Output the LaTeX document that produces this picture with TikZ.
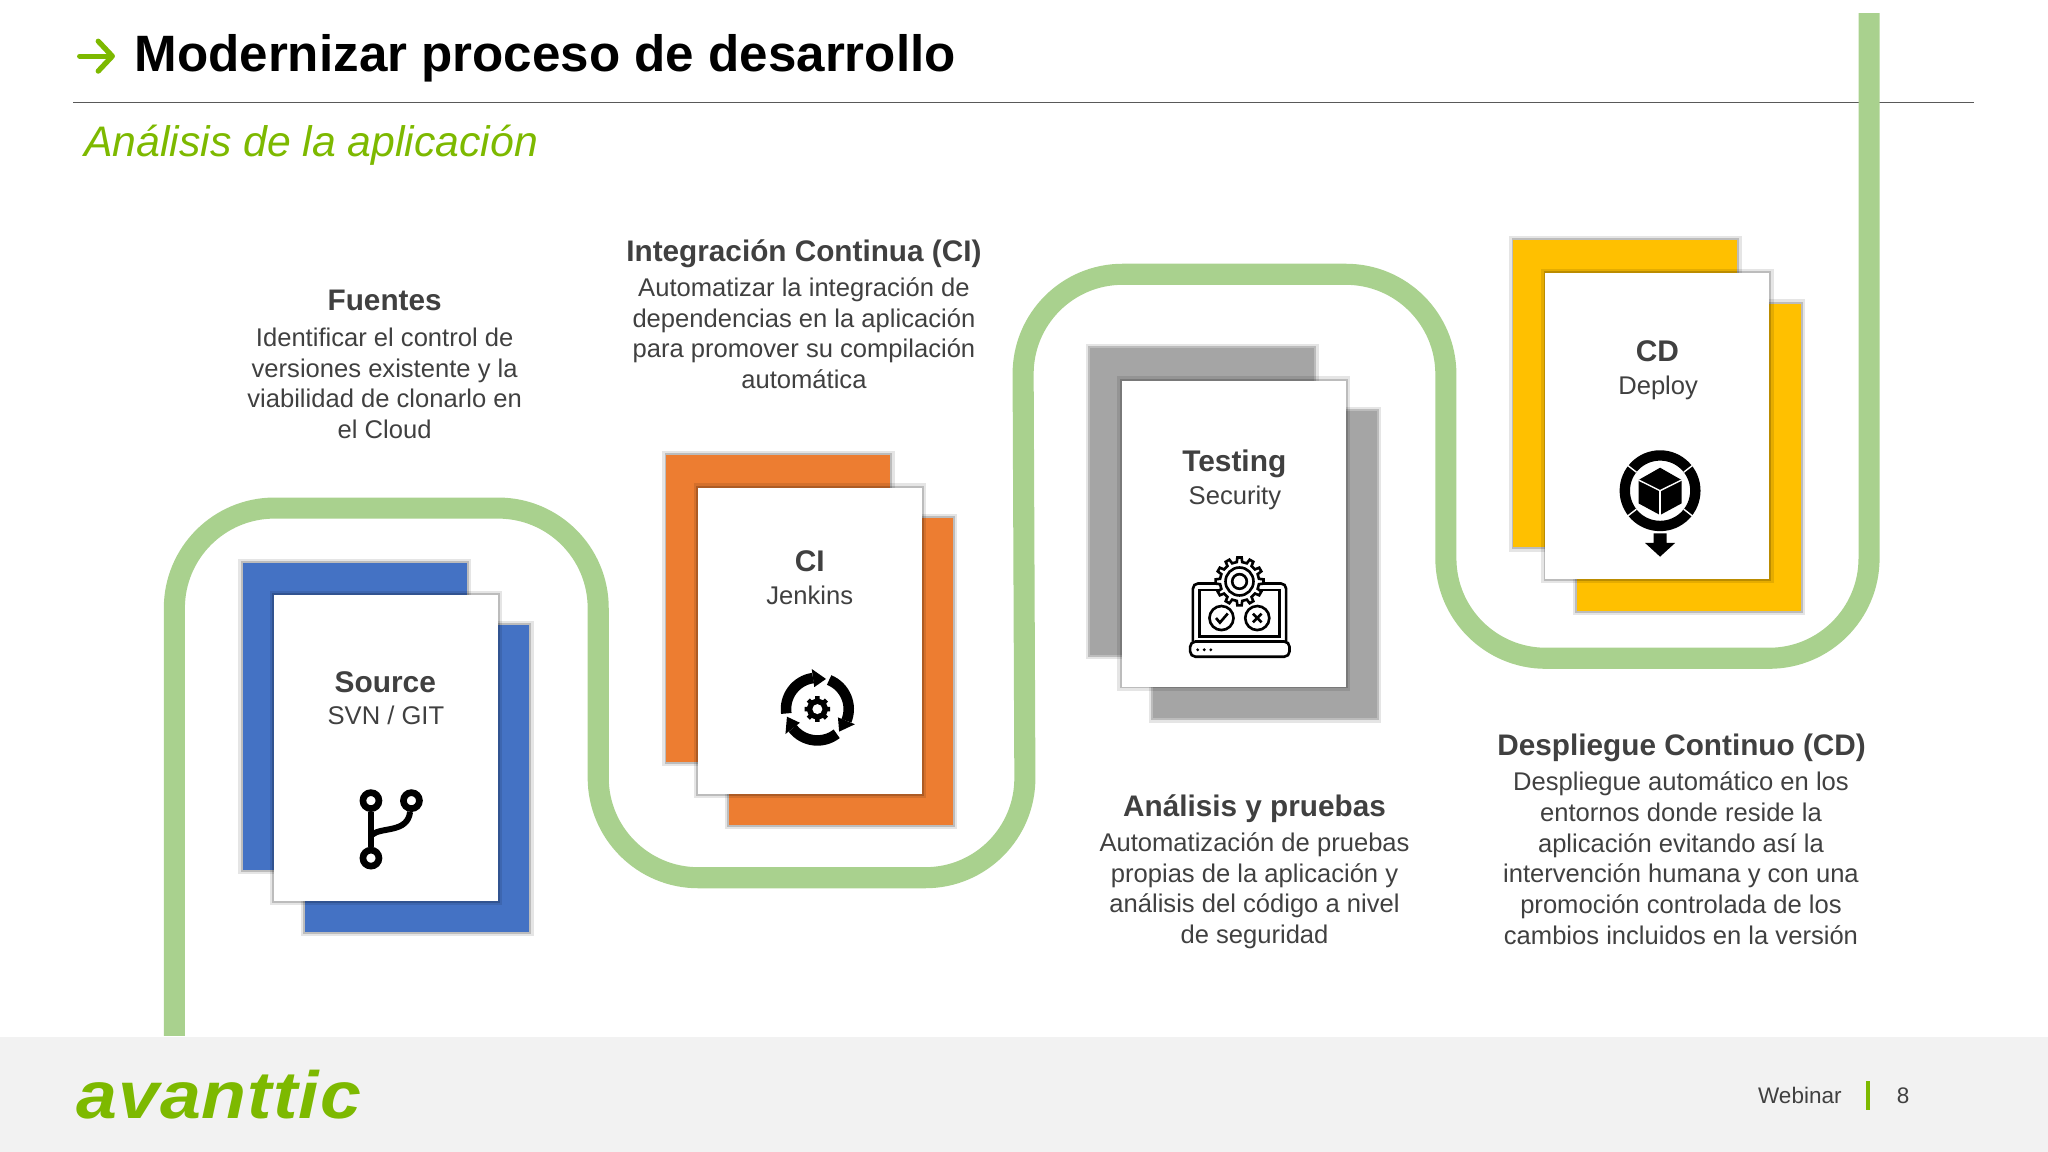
\documentclass[tikz,border=0pt]{standalone}
\usepackage{fontspec}
\setmainfont{Liberation Sans}
\newfontfamily\logofont[LetterSpace=1.5,FakeStretch=1.1]{Liberation Sans}
\usetikzlibrary{arrows.meta}
\pgfdeclarelayer{edgelayer}
\pgfdeclarelayer{nodelayer}
\pgfsetlayers{edgelayer,nodelayer,main}
\definecolor{pathgreen}{HTML}{A9D18E}
\definecolor{brandgreen}{HTML}{7DB900}
\definecolor{darktext}{HTML}{404040}
\definecolor{cardblue}{HTML}{4472C4}
\definecolor{cardorange}{HTML}{ED7D31}
\definecolor{cardgray}{HTML}{A5A5A5}
\definecolor{cardyellow}{HTML}{FFC000}
\tikzstyle{back_card}=[minimum width=2.24cm,minimum height=3.07cm,inner sep=0pt,preaction={draw=black,draw opacity=.1,line width=2.4pt},preaction={draw=black,draw opacity=.18,line width=1.1pt}]
\tikzstyle{front_card}=[back_card,fill=white,minimum width=2.24cm,minimum height=3.06cm]
\tikzstyle{card_head}=[text=darktext,font=\fontsize{8.5}{10}\selectfont\bfseries]
\tikzstyle{card_sub}=[text=darktext,font=\fontsize{7.28}{9}\selectfont]
\tikzstyle{block_head}=[text=darktext,font=\fontsize{8.46}{10}\selectfont\bfseries]
\tikzstyle{block_body}=[text=darktext,align=center,font=\fontsize{7.28}{8.72}\selectfont]
\tikzstyle{green_road}=[draw=pathgreen,line width=6pt,rounded corners=1cm]
\tikzstyle{icon_line}=[draw=black,line width=.75pt]

\begin{document}
\begin{tikzpicture}[x=0.0130612cm,y=-0.0130612cm]
	\useasboundingbox (0,0) rectangle (1568,882);
	\begin{pgfonlayer}{edgelayer}
		\draw [draw=black!65,line width=.45pt] (56,78.5) to (1511,78.5);
		\draw [style=green_road] (133.5,793) -- (133.5,389) -- (458,389) -- (458,672) -- (785,672) -- (783,210) -- (1107,210) -- (1107,504) -- (1431,504) -- (1431,10);
	\end{pgfonlayer}
	\begin{pgfonlayer}{nodelayer}
		\node [fill=black!5,minimum width=20.48cm,minimum height=1.15cm,inner sep=0pt] (footer) at (784,838) {};
		\node [anchor=base west,inner sep=0pt,font=\fontsize{14.55}{17}\selectfont\bfseries] (title) at (102.5,55) {Modernizar proceso de desarrollo};
		\node [anchor=base west,inner sep=0pt,text=brandgreen,font=\fontsize{12.16}{14}\selectfont\itshape] (subtitle) at (64,120) {Análisis de la aplicación};
		\coordinate (arrowtail) at (61,43);
		\coordinate (arrowtip) at (88,43);
		\draw [draw=brandgreen,line width=1.5pt,line cap=round,-{Straight Barb[length=4pt,width=8.5pt,line width=1.5pt,round]}] (arrowtail) to (arrowtip);
		% source card
		\node [style=back_card,fill=cardblue] (srcback) at (271.5,548.5) {};
		\node [style=back_card,fill=cardblue] (srcfront) at (319.5,596) {};
		\node [style=front_card] (src) at (295.5,572.5) {};
		\node [style=card_head] (srchead) at (295,522) {Source};
		\node [style=card_sub] (srcsub) at (295.5,548) {SVN / GIT};
		% jenkins card
		\node [style=back_card,fill=cardorange] (ciback) at (596,466) {};
		\node [style=back_card,fill=cardorange] (cifront) at (644,514) {};
		\node [style=front_card] (ci) at (620,490.5) {};
		\node [style=card_head] (cihead) at (620,430) {CI};
		\node [style=card_sub] (cisub) at (620,456) {Jenkins};
		% testing card
		\node [style=back_card,fill=cardgray] (testback) at (920.5,384) {};
		\node [style=back_card,fill=cardgray] (testfront) at (968.5,432.5) {};
		\node [style=front_card] (test) at (944.5,408.5) {};
		\node [style=card_head] (testhead) at (945,355) {Testing};
		\node [style=card_sub] (testsub) at (945.5,381) {Security};
		% deploy card
		\node [style=back_card,fill=cardyellow] (cdback) at (1244.5,301.5) {};
		\node [style=back_card,fill=cardyellow] (cdfront) at (1293,350) {};
		\node [style=front_card] (cd) at (1269,326) {};
		\node [style=card_head] (cdhead) at (1269,269) {CD};
		\node [style=card_sub] (cdsub) at (1269.5,297) {Deploy};
		% text blocks
		\node [style=block_head] (srctitle) at (294.5,230) {Fuentes};
		\node [style=block_body] (srctext) at (294.5,293.5) {Identificar el control de\\versiones existente y la\\viabilidad de clonarlo en\\el Cloud};
		\node [style=block_head] (cititle) at (615.5,194) {Integración Continua (CI)};
		\node [style=block_body] (citext) at (615.5,255) {Automatizar la integración de\\dependencias en la aplicación\\para promover su compilación\\automática};
		\node [style=block_head] (testtitle) at (960.5,619) {Análisis y pruebas};
		\node [style=block_body] (testtext) at (960.5,682) {Automatización de pruebas\\propias de la aplicación y\\análisis del código a nivel\\de seguridad};
		\node [style=block_head] (cdtitle) at (1287.5,572.5) {Despliegue Continuo (CD)};
		\node [style=block_body] (cdtext) at (1287,657) {Despliegue automático en los\\entornos donde reside la\\aplicación evitando así la\\intervención humana y con una\\promoción controlada de los\\cambios incluidos en la versión};
		% footer
		\node [anchor=base west,inner sep=0pt,text=brandgreen,font=\logofont\fontsize{19}{22}\selectfont\bfseries\itshape] (logo) at (58,856) {avanttic};
		\node [text=darktext,font=\fontsize{6.4}{8}\selectfont] (webinar) at (1378,839) {Webinar};
		\node [text=darktext,font=\fontsize{6.4}{8}\selectfont] (pagenum) at (1457,839) {8};
		\node [fill=brandgreen,minimum width=.4mm,minimum height=2.9mm,inner sep=0pt] (footbar) at (1430,839) {};
	\end{pgfonlayer}
	% branch icon
	\begin{scope}[line width=1.7pt]
		\node [draw=black,line width=1.9pt,circle,inner sep=0pt,minimum size=1.6mm] (b1) at (284,613) {};
		\node [draw=black,line width=1.9pt,circle,inner sep=0pt,minimum size=1.6mm] (b2) at (315,613) {};
		\node [draw=black,line width=1.9pt,circle,inner sep=0pt,minimum size=1.6mm] (b3) at (284,657) {};
		\draw (b1) to (b3);
		\draw (285,639) .. controls (292,633) and (312,638) .. (b2);
	\end{scope}
	% cycle icon
	\begin{scope}[shift={(625.8,542.9)},yscale=-1]
		\foreach \a in {0,120,240} {
			\begin{scope}[rotate=\a]
				\draw [line width=3pt] (188:24) arc (188:98:24);
				\fill (98:31) -- (74:24) -- (98:17) -- cycle;
			\end{scope}
		}
		\fill (0:7.5) \foreach \a in {0,45,...,315} { -- (\a-12:8) -- (\a-10:10) -- (\a+10:10) -- (\a+12:8) -- (\a+33:8) } -- cycle;
		\fill [white] (0,0) circle (3.8);
	\end{scope}
	% testing icon
	\begin{scope}[shift={(949,473.2)},yscale=-1]
		\draw [icon_line,rounded corners=1.5pt] (-35.7,-18) -- (-35.7,26.5) -- (35.7,26.5) -- (35.7,-18);
		\draw [icon_line] (-30.6,-14.3) rectangle (30.6,21.4);
		\draw [icon_line,rounded corners=1.5pt] (-37.8,-18) rectangle (38.3,-29.6);
		\foreach \d in {-32,-27,-22} { \fill (\d,-24.3) circle (1.2); }
		\draw [icon_line,fill=white] ([shift={(0,28)}]-8:15) \foreach \a in {0,30,...,330} { -- ([shift={(0,28)}]\a-8:15) -- ([shift={(0,28)}]\a-5:18.4) -- ([shift={(0,28)}]\a+5:18.4) -- ([shift={(0,28)}]\a+8:15) } -- cycle;
		\draw [icon_line] (0,28) circle (10.7);
		\draw [icon_line] (0,28) circle (5.6);
		\draw [icon_line] (-13.8,0) circle (9.2);
		\draw [icon_line] (13.6,0) circle (9.2);
		\draw [icon_line] (-18,0) -- (-15,-3.5) -- (-9,3.5);
		\draw [icon_line] (10.3,3.3) -- (16.9,-3.3);
		\draw [icon_line] (10.3,-3.3) -- (16.9,3.3);
	\end{scope}
	% deploy icon
	\begin{scope}[shift={(1271,375.7)},yscale=-1]
		\draw [line width=2.95pt] (0,0) circle (27);
		\foreach \a in {38,142,218,322} { \draw [white,line width=.4pt] (\a:23) -- (\a:31.5); }
		\fill (0,17.6) -- (16.5,8.2) -- (16.5,-9.7) -- (0,-18.6) -- (-16.5,-9.7) -- (-16.5,8.2) -- cycle;
		\draw [white,line width=.4pt] (-16.5,8.2) -- (0,0) -- (16.5,8.2);
		\draw [white,line width=.4pt] (0,0) -- (0,-18.6);
		\fill (-5,-32.7) -- (5,-32.7) -- (5,-40) -- (11.5,-40) -- (0,-50.5) -- (-11.5,-40) -- (-5,-40) -- cycle;
	\end{scope}
\end{tikzpicture}
\end{document}
